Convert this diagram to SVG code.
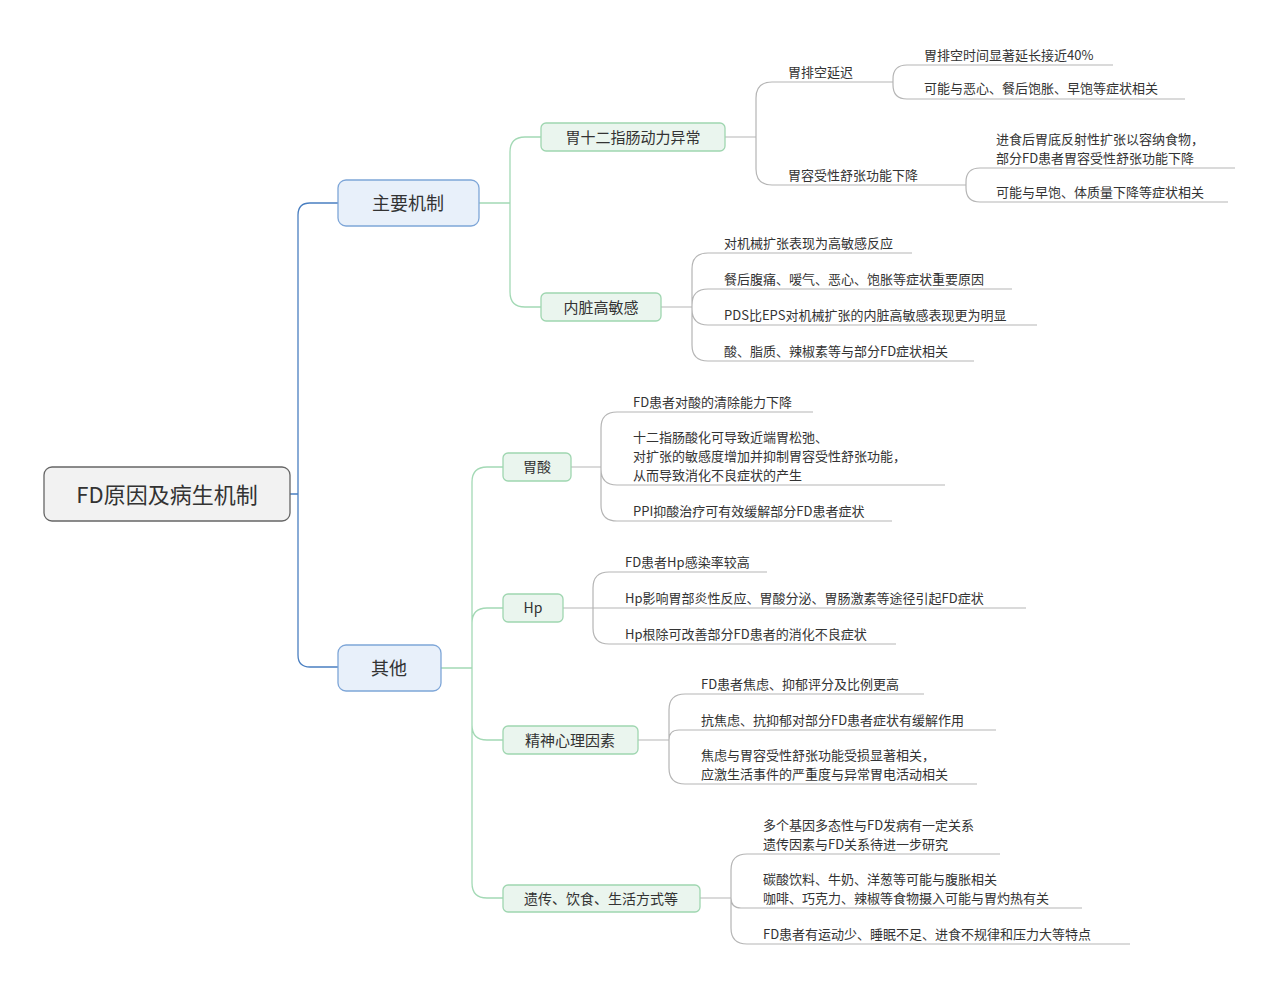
<svg xmlns="http://www.w3.org/2000/svg" width="1280" height="988" viewBox="0 0 1280 988">
<style>
text{font-family:"Noto Sans CJK SC","Liberation Sans",sans-serif;fill:#333}
.leaf{font-size:13px}
.b{fill:none;stroke:#4a7fc1;stroke-width:1.3}
.g{fill:none;stroke:#a3d9b5;stroke-width:1.3}
.l{fill:none;stroke:#b5b5b5;stroke-width:1.2}
.n2{fill:#e8f0fa;stroke:#7ea6d8;stroke-width:1.3}
.n3{fill:#eaf5ee;stroke:#9fd6b0;stroke-width:1.3}
</style>
<rect width="1280" height="988" fill="#fff"/>
<g id="connectors">
<path class="b" d="M290,494 H298 M298,494 V215 Q298,203 310,203 H338 M298,494 V655 Q298,667 310,667 H338"/>
<path class="g" d="M479,203 H510 M510,203 V152 Q510,137 525,137 H541 M510,203 V292 Q510,307 525,307 H541"/>
<path class="g" d="M441,668 H472 M472,668 V482 Q472,467 487,467 H503 M472,668 V623 Q472,608 487,608 H503 M472,668 V725 Q472,740 487,740 H503 M472,668 V883 Q472,898 487,898 H503"/>
<path class="l" d="M725,137 H756 M756,137 V98 Q756,82 772,82 H890 M756,137 V169 Q756,185 772,185 H963"/>
<path class="l" d="M890,82 H893 V79 Q893,65 907,65 H1113 M893,82 V85 Q893,99 907,99 H1185"/>
<path class="l" d="M963,185 H966 V182 Q966,168 980,168 H1235 M966,185 V188 Q966,202 980,202 H1228"/>
<path class="l" d="M661,307 H692 M692,307 V269 Q692,253 708,253 H912 M692,307 V305 Q692,289 708,289 H1012 M692,307 V309 Q692,325 708,325 H1037 M692,307 V345 Q692,361 708,361 H974"/>
<path class="l" d="M571,467 H601 M601,467 V428 Q601,412 617,412 H813 M601,467 V469 Q601,485 617,485 H945 M601,467 V505 Q601,521 617,521 H892"/>
<path class="l" d="M563,608 H593 M593,608 V588 Q593,572 609,572 H767 M593,608 H1026 M593,608 V628 Q593,644 609,644 H896"/>
<path class="l" d="M638,740 H669 M669,740 V710 Q669,694 685,694 H924 M669,740 Q669,730 679,730 H996 M669,740 V768 Q669,784 685,784 H977"/>
<path class="l" d="M700,898 H731 M731,898 V870 Q731,854 747,854 H1000 M731,898 Q731,908 741,908 H1082 M731,898 V928 Q731,944 747,944 H1130"/>
</g>
<g id="root"><rect x="44" y="467" width="246" height="54" rx="8" fill="#f2f2f2" stroke="#666" stroke-width="1.3"/><text x="167" y="503" font-size="22" text-anchor="middle">FD原因及病生机制</text></g>
<g id="n-main"><rect class="n2" x="338" y="180" width="141" height="46" rx="8"/><text x="408" y="210" font-size="18" text-anchor="middle">主要机制</text></g>
<g id="n-other"><rect class="n2" x="338" y="645" width="103" height="46" rx="8"/><text x="389" y="675" font-size="18" text-anchor="middle">其他</text></g>
<g id="n-motility"><rect class="n3" x="541" y="123" width="184" height="28" rx="5"/><text x="633" y="143" font-size="15" text-anchor="middle">胃十二指肠动力异常</text></g>
<g id="n-visceral"><rect class="n3" x="541" y="293" width="120" height="28" rx="5"/><text x="601" y="313" font-size="15" text-anchor="middle">内脏高敏感</text></g>
<g id="n-acid"><rect class="n3" x="503" y="453" width="68" height="28" rx="5"/><text x="537" y="472" font-size="14" text-anchor="middle">胃酸</text></g>
<g id="n-hp"><rect class="n3" x="503" y="594" width="60" height="28" rx="5"/><text x="533" y="613" font-size="14" text-anchor="middle">Hp</text></g>
<g id="n-psy"><rect class="n3" x="503" y="726" width="135" height="28" rx="5"/><text x="570" y="746" font-size="15" text-anchor="middle">精神心理因素</text></g>
<g id="n-gen"><rect class="n3" x="503" y="885" width="197" height="27" rx="5"/><text x="601" y="904" font-size="14" text-anchor="middle">遗传、饮食、生活方式等</text></g>
<g id="leaves" class="leaf">
<text x="788" y="77">胃排空延迟</text>
<text x="788" y="180">胃容受性舒张功能下降</text>
<text x="924" y="60">胃排空时间显著延长接近40%</text>
<text x="924" y="93">可能与恶心、餐后饱胀、早饱等症状相关</text>
<text x="996" y="144">进食后胃底反射性扩张以容纳食物，</text>
<text x="996" y="163">部分FD患者胃容受性舒张功能下降</text>
<text x="996" y="197">可能与早饱、体质量下降等症状相关</text>
<text x="724" y="248">对机械扩张表现为高敏感反应</text>
<text x="724" y="284">餐后腹痛、嗳气、恶心、饱胀等症状重要原因</text>
<text x="724" y="320">PDS比EPS对机械扩张的内脏高敏感表现更为明显</text>
<text x="724" y="356">酸、脂质、辣椒素等与部分FD症状相关</text>
<text x="633" y="407">FD患者对酸的清除能力下降</text>
<text x="633" y="442">十二指肠酸化可导致近端胃松弛、</text>
<text x="633" y="461">对扩张的敏感度增加并抑制胃容受性舒张功能，</text>
<text x="633" y="480">从而导致消化不良症状的产生</text>
<text x="633" y="516">PPI抑酸治疗可有效缓解部分FD患者症状</text>
<text x="625" y="567">FD患者Hp感染率较高</text>
<text x="625" y="603">Hp影响胃部炎性反应、胃酸分泌、胃肠激素等途径引起FD症状</text>
<text x="625" y="639">Hp根除可改善部分FD患者的消化不良症状</text>
<text x="701" y="689">FD患者焦虑、抑郁评分及比例更高</text>
<text x="701" y="725">抗焦虑、抗抑郁对部分FD患者症状有缓解作用</text>
<text x="701" y="760">焦虑与胃容受性舒张功能受损显著相关，</text>
<text x="701" y="779">应激生活事件的严重度与异常胃电活动相关</text>
<text x="763" y="830">多个基因多态性与FD发病有一定关系</text>
<text x="763" y="849">遗传因素与FD关系待进一步研究</text>
<text x="763" y="884">碳酸饮料、牛奶、洋葱等可能与腹胀相关</text>
<text x="763" y="903">咖啡、巧克力、辣椒等食物摄入可能与胃灼热有关</text>
<text x="763" y="939">FD患者有运动少、睡眠不足、进食不规律和压力大等特点</text>
</g>
</svg>
